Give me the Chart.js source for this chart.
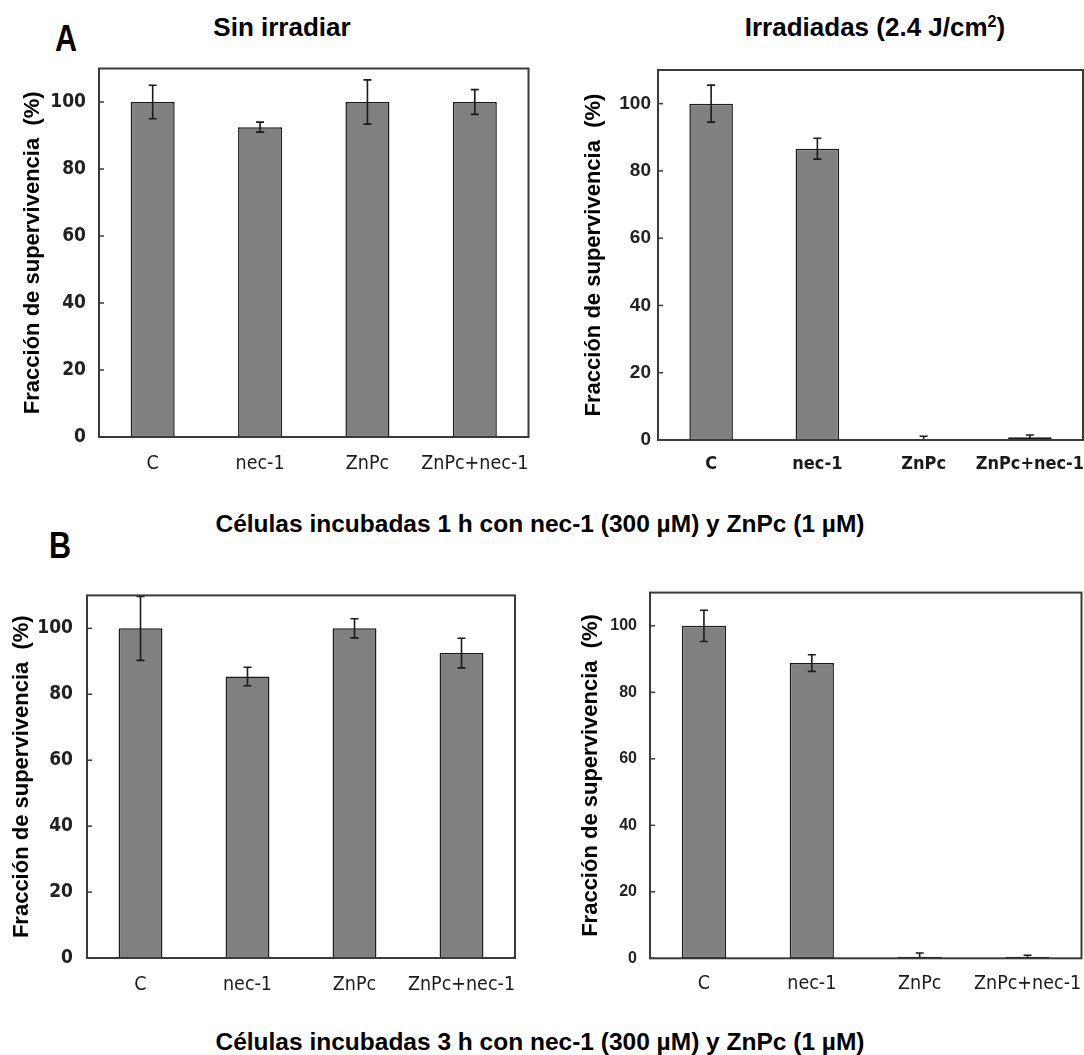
<!DOCTYPE html>
<html lang="es">
<head>
<meta charset="UTF-8">
<title>Fracción de supervivencia</title>
<script src="https://cdn.jsdelivr.net/npm/chart.js@4"></script>
<style>
* { margin: 0; padding: 0; box-sizing: border-box; }
body {
    width: 1084px;
    height: 1055px;
    position: relative;
    overflow: hidden;
    background: #fff;
    font-family: "Liberation Sans", Arial, sans-serif;
}
.txt {
    position: absolute;
    font-weight: bold;
    color: #000;
    line-height: 1;
    white-space: nowrap;
}
.center { transform: translateX(-50%); }
.letter { font-size: 36px; transform-origin: 0 0; transform: scaleX(0.85); }
.head { font-size: 26px; }
.head sup { font-size: 0.62em; line-height: 0; vertical-align: 0.55em; }
.caption { font-size: 24.5px; }
canvas { position: absolute; }
</style>
</head>
<body>
<div class="txt letter" style="left:55px; top:21px">A</div>
<div class="txt head center" style="left:282px; top:14px">Sin irradiar</div>
<div class="txt head center" style="left:875px; top:14px">Irradiadas (2.4 J/cm<sup>2</sup>)</div>
<div class="txt caption center" style="left:540px; top:512px">Células incubadas 1 h con nec-1 (300 µM) y ZnPc (1 µM)</div>
<div class="txt letter" style="left:49px; top:528px">B</div>
<div class="txt caption center" style="left:540px; top:1030px">Células incubadas 3 h con nec-1 (300 µM) y ZnPc (1 µM)</div>

<canvas id="tl" width="540" height="450" style="left:0; top:40px"></canvas>
<canvas id="tr" width="534" height="450" style="left:550px; top:40px"></canvas>
<canvas id="bl" width="540" height="440" style="left:0; top:570px"></canvas>
<canvas id="br" width="534" height="440" style="left:550px; top:570px"></canvas>

<script>
// categories and tick values
const categories = ['C', 'nec-1', 'ZnPc', 'ZnPc+nec-1'];
const yTicks = [0, 20, 40, 60, 80, 100];

// A: 1 h incubation
const sinIrradiar1h = [100, 92.5, 100, 100];
const sinIrradiar1hErr = [5, 1.5, 6.6, 3.7];
const irradiadas1h = [100, 86.6, 0.3, 0.8];
const irradiadas1hErr = [5.5, 3.1, 0.8, 0.7];

// B: 3 h incubation
const sinIrradiar3h = [100, 85.4, 100, 92.5];
const sinIrradiar3hErr = [9.7, 2.8, 2.9, 4.5];
const irradiadas3h = [100, 88.8, 0.5, 0.5];
const irradiadas3hErr = [4.7, 2.5, 1.1, 0.4];

const narrow = '"Liberation Sans Narrow", "Arial Narrow", "DejaVu Sans Condensed", sans-serif';
const wide = '"Liberation Sans", Arial, sans-serif';

// frame, inner y ticks and error bars
const frameAndErrors = {
    id: 'frameAndErrors',
    afterDatasetsDraw(chart) {
        const { ctx, chartArea: a, scales: { y } } = chart;
        const ds = chart.data.datasets[0];
        ctx.save();
        ctx.strokeStyle = '#1a1a1a';
        ctx.lineWidth = 1.6;
        chart.getDatasetMeta(0).data.forEach((bar, i) => {
            const v = ds.data[i], e = ds.errors[i];
            const hi = y.getPixelForValue(v + e);
            const lo = y.getPixelForValue(Math.max(0, v - e));
            ctx.beginPath();
            ctx.moveTo(bar.x, hi); ctx.lineTo(bar.x, lo);
            ctx.moveTo(bar.x - 4, hi); ctx.lineTo(bar.x + 4, hi);
            ctx.moveTo(bar.x - 4, lo); ctx.lineTo(bar.x + 4, lo);
            ctx.stroke();
        });
        ctx.strokeStyle = '#3a3a3a';
        ctx.lineWidth = 2;
        ctx.strokeRect(a.left, a.top, a.width, a.height);
        ctx.lineWidth = 1.5;
        y.ticks.forEach(t => {
            const py = y.getPixelForValue(t.value);
            ctx.beginPath();
            ctx.moveTo(a.left, py);
            ctx.lineTo(a.left + 5, py);
            ctx.stroke();
        });
        ctx.restore();
    }
};

function makePanel(p) {
    const canvas = document.getElementById(p.id);
    return new Chart(canvas, {
        type: 'bar',
        data: {
            labels: categories,
            datasets: [{
                data: p.values,
                errors: p.errors,
                backgroundColor: '#808080',
                borderColor: '#1a1a1a',
                borderWidth: 1.5,
                borderSkipped: false,
                barPercentage: 0.41,
                categoryPercentage: 1
            }]
        },
        options: {
            responsive: false,
            animation: false,
            devicePixelRatio: 1,
            layout: {
                padding: { top: p.box.t - p.top, right: p.left + canvas.width - p.box.r, left: 0, bottom: 0 }
            },
            plugins: { legend: { display: false }, tooltip: { enabled: false } },
            scales: {
                x: {
                    grid: { display: false, drawTicks: false },
                    border: { display: false },
                    ticks: {
                        padding: p.xPad,
                        color: '#1a1a1a',
                        maxRotation: 0,
                        autoSkip: false,
                        font: { family: narrow, size: p.xBold ? 18 : 19.5, weight: p.xBold ? 'bold' : 'normal' }
                    },
                    afterFit: s => {
                        s.height = p.top + canvas.height - p.box.b;
                        s.paddingLeft = 0;
                        s.paddingRight = 0;
                    }
                },
                y: {
                    min: 0,
                    max: 110,
                    grid: { display: false, drawTicks: false },
                    border: { display: false },
                    afterBuildTicks: s => { s.ticks = yTicks.map(v => ({ value: v })); },
                    ticks: {
                        padding: p.tickPad,
                        color: '#222',
                        font: p.tickFont
                    },
                    title: {
                        display: true,
                        text: 'Fracción de supervivencia  (%)',
                        color: '#000',
                        font: { family: wide, size: 22, weight: 'bold' },
                        padding: { top: p.titleX - 13.2, bottom: 0 }
                    },
                    afterFit: s => { s.width = p.box.l - p.left; }
                }
            }
        },
        plugins: [frameAndErrors]
    });
}

makePanel({
    id: 'tl', left: 0, top: 40,
    box: { l: 99, t: 68.5, r: 528.5, b: 437 },
    values: sinIrradiar1h, errors: sinIrradiar1hErr,
    titleX: 32.7, tickPad: 13, xPad: 15, xBold: false,
    tickFont: { family: narrow, size: 19, weight: 'bold' }
});
makePanel({
    id: 'tr', left: 550, top: 40,
    box: { l: 658, t: 70, r: 1083, b: 440 },
    values: irradiadas1h, errors: irradiadas1hErr,
    titleX: 44, tickPad: 7, xPad: 14, xBold: true,
    tickFont: { family: wide, size: 19, weight: 'bold' }
});
makePanel({
    id: 'bl', left: 0, top: 570,
    box: { l: 87, t: 590.5, r: 515, b: 958 },
    values: sinIrradiar3h, errors: sinIrradiar3hErr,
    titleX: 21.5, tickPad: 14, xPad: 15, xBold: false,
    tickFont: { family: narrow, size: 19, weight: 'bold' }
});
makePanel({
    id: 'br', left: 550, top: 570,
    box: { l: 650, t: 590.7, r: 1081.5, b: 958.3 },
    values: irradiadas3h, errors: irradiadas3hErr,
    titleX: 41, tickPad: 13, xPad: 14, xBold: false,
    tickFont: { family: wide, size: 16, weight: 'bold' }
});
</script>
</body>
</html>
